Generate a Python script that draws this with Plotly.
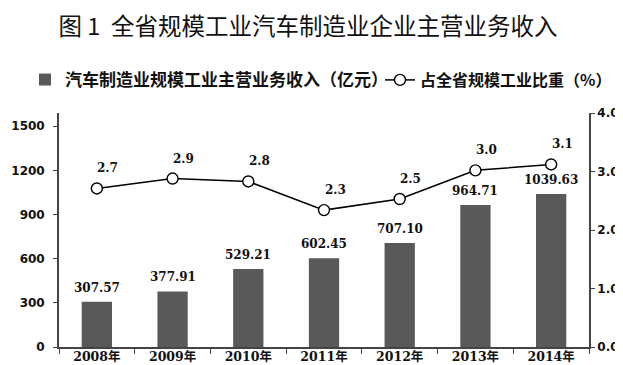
import plotly.graph_objects as go

years = ["2008年", "2009年", "2010年", "2011年", "2012年", "2013年", "2014年"]
revenue = [307.57, 377.91, 529.21, 602.45, 707.10, 964.71, 1039.63]
revenue_labels = ["307.57", "377.91", "529.21", "602.45", "707.10", "964.71", "1039.63"]
share = [2.71, 2.88, 2.83, 2.34, 2.53, 3.02, 3.12]
share_labels = ["2.7", "2.9", "2.8", "2.3", "2.5", "3.0", "3.1"]
left_ticks = [0, 300, 600, 900, 1200, 1500]
right_ticks = [0, 1, 2, 3, 4]

serif = "DejaVu Serif, Noto Sans CJK SC"
cjk = "Noto Sans CJK SC"
axis_col = "#444"

fig = go.Figure()
fig.add_trace(go.Bar(
    x=years, y=revenue, name="汽车制造业规模工业主营业务收入（亿元）",
    marker=dict(color="#595959", line=dict(width=0)), legend="legend",
))
fig.add_trace(go.Scatter(
    x=years, y=share, yaxis="y2", mode="lines+markers",
    name="占全省规模工业比重（%）", legend="legend2",
    line=dict(color="black", width=1.5),
    marker=dict(symbol="circle", size=11, color="white", line=dict(color="black", width=1.4)),
))
for x, y, t in zip(years, revenue, revenue_labels):
    fig.add_annotation(x=x, y=y, xref="x", yref="y", text=t,
                       showarrow=False, yanchor="bottom", yshift=5,
                       font=dict(family=serif, size=12, color="#111", weight="bold"))
for x, y, t in zip(years, share, share_labels):
    fig.add_annotation(x=x, y=y, xref="x", yref="y2", text=t,
                       showarrow=False, xshift=11, yshift=20,
                       font=dict(family=serif, size=12, color="#111", weight="bold"))

fig.update_layout(
    width=623, height=365,
    margin=dict(l=51, r=42, t=105, b=26, autoexpand=False),
    paper_bgcolor="white", plot_bgcolor="white",
    title=dict(text="图 1  全省规模工业汽车制造业企业主营业务收入", x=300/623, xanchor="center",
               y=1 - 19/365, yanchor="middle", font=dict(family=cjk, size=23.5, color="#111"),
               automargin=False),
    bargap=0.6,
    showlegend=True,
    legend=dict(orientation="h", xref="container", yref="container", x=17/623, y=1 - 72/365,
                xanchor="left", yanchor="middle", bgcolor="rgba(0,0,0,0)",
                font=dict(family=cjk, size=17, color="#111", weight="bold")),
    legend2=dict(orientation="h", xref="container", yref="container", x=372/623, y=1 - 72/365,
                 xanchor="left", yanchor="middle", bgcolor="rgba(0,0,0,0)",
                 font=dict(family=cjk, size=16, color="#111", weight="bold")),
    xaxis=dict(showline=True, linecolor=axis_col, linewidth=1.5, ticks="outside", tickson="boundaries",
               ticklen=5, tickcolor=axis_col, automargin=False, ticklabelstandoff=-3,
               tickfont=dict(family=serif, size=12.5, color="#111", weight="bold"),
               showgrid=False),
    yaxis=dict(range=[0, 1590], tickvals=left_ticks, showline=True, automargin=False,
               linecolor=axis_col, linewidth=1.8, ticks="outside", ticklen=4, tickcolor=axis_col,
               showgrid=False, zeroline=False, ticklabelstandoff=6,
               tickfont=dict(family="DejaVu Sans", size=12, color="#111", weight="bold")),
    yaxis2=dict(range=[0, 4], tickvals=right_ticks, tickformat=".1f", overlaying="y", side="right",
                showline=True, linecolor=axis_col, linewidth=1.8, ticks="outside", ticklen=4,
                automargin=False,
                tickcolor=axis_col, showgrid=False, zeroline=False, ticklabelstandoff=0,
                tickfont=dict(family="DejaVu Sans", size=12, color="#111", weight="bold")),
)
fig.write_html("out.html")
